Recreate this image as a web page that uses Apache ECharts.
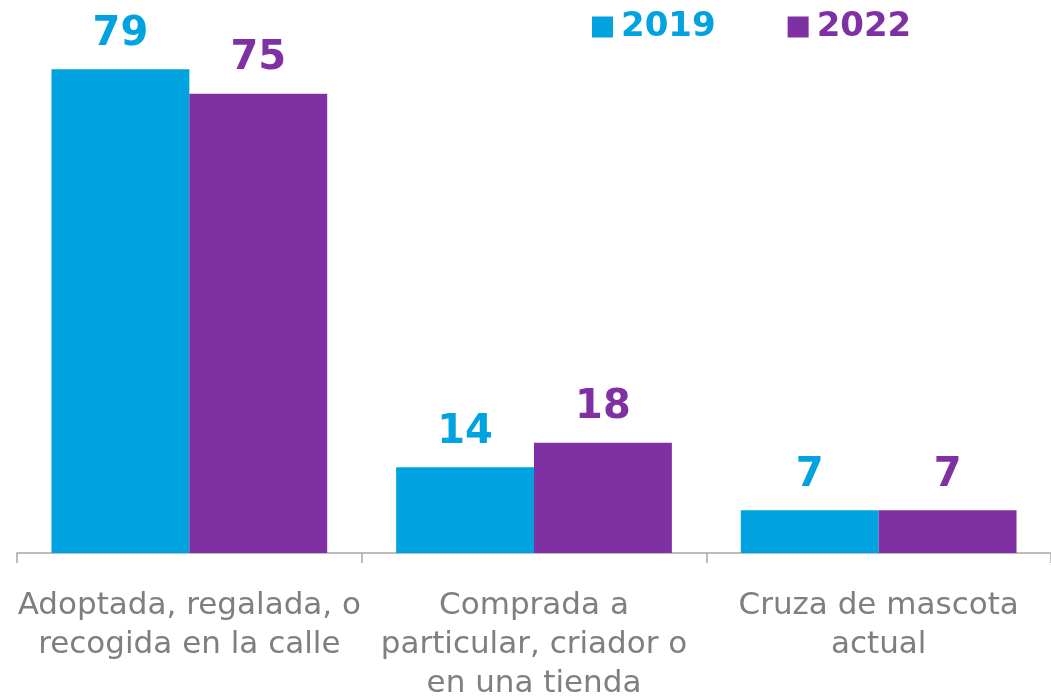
<!DOCTYPE html>
<html>
<head>
<meta charset="utf-8">
<script src="https://cdn.jsdelivr.net/npm/echarts@6/dist/echarts.min.js"></script>
<style>
  html, body { margin: 0; padding: 0; background: #fff; }
  #chart { width: 1051px; height: 698px; }
</style>
</head>
<body>
<div id="chart"></div>
<script>
const categories = [
  'Adoptada, regalada, o\nrecogida en la calle',
  'Comprada a\nparticular, criador o\nen una tienda',
  'Cruza de mascota\nactual'
]
const years = ['2019', '2022']
const values2019 = [79, 14, 7]
const values2022 = [75, 18, 7]
const colors = ['#00A3E0', '#7F30A3']

const font = '"DejaVu Sans", "Noto Sans", sans-serif'

// 初始化图表
const chart = echarts.init(document.getElementById('chart'))

const valueLabel = color => ({
  show: true,
  position: 'top',
  distance: 15,
  color: color,
  fontFamily: font,
  fontWeight: 'bold',
  fontSize: 40
})

chart.setOption({
  backgroundColor: '#fff',
  animation: false,
  grid: {
    left: 17,
    right: 0,
    top: 63,
    bottom: 145,
    outerBoundsMode: 'none',
    containLabel: false
  },
  legend: {
    left: 592,
    top: 10,
    padding: 0,
    itemWidth: 21,
    itemHeight: 21,
    itemGap: 72,
    icon: 'rect',
    data: years.map((y, i) => ({
      name: y,
      textStyle: { color: colors[i] }
    })),
    textStyle: {
      fontFamily: font,
      fontWeight: 'bold',
      fontSize: 34,
      padding: [0, 0, 0, 3]
    }
  },
  xAxis: {
    type: 'category',
    data: categories,
    axisLine: { lineStyle: { color: '#A6A6A6', width: 1.5 } },
    axisTick: { show: true, length: 10, lineStyle: { color: '#A6A6A6', width: 1.5 } },
    axisLabel: {
      color: '#7F7F7F',
      fontFamily: font,
      fontSize: 31,
      lineHeight: 39,
      margin: 33,
      interval: 0
    }
  },
  yAxis: {
    type: 'value',
    min: 0,
    max: 80,
    show: false,
    splitLine: { show: false }
  },
  series: [
    {
      name: years[0],
      type: 'bar',
      data: values2019,
      barGap: '0%',
      barCategoryGap: '20%',
      itemStyle: { color: colors[0] },
      label: valueLabel(colors[0])
    },
    {
      name: years[1],
      type: 'bar',
      data: values2022,
      barGap: '0%',
      barCategoryGap: '20%',
      itemStyle: { color: colors[1] },
      label: valueLabel(colors[1])
    }
  ]
})

window.addEventListener('resize', () => { chart.resize() })
</script>
</body>
</html>
